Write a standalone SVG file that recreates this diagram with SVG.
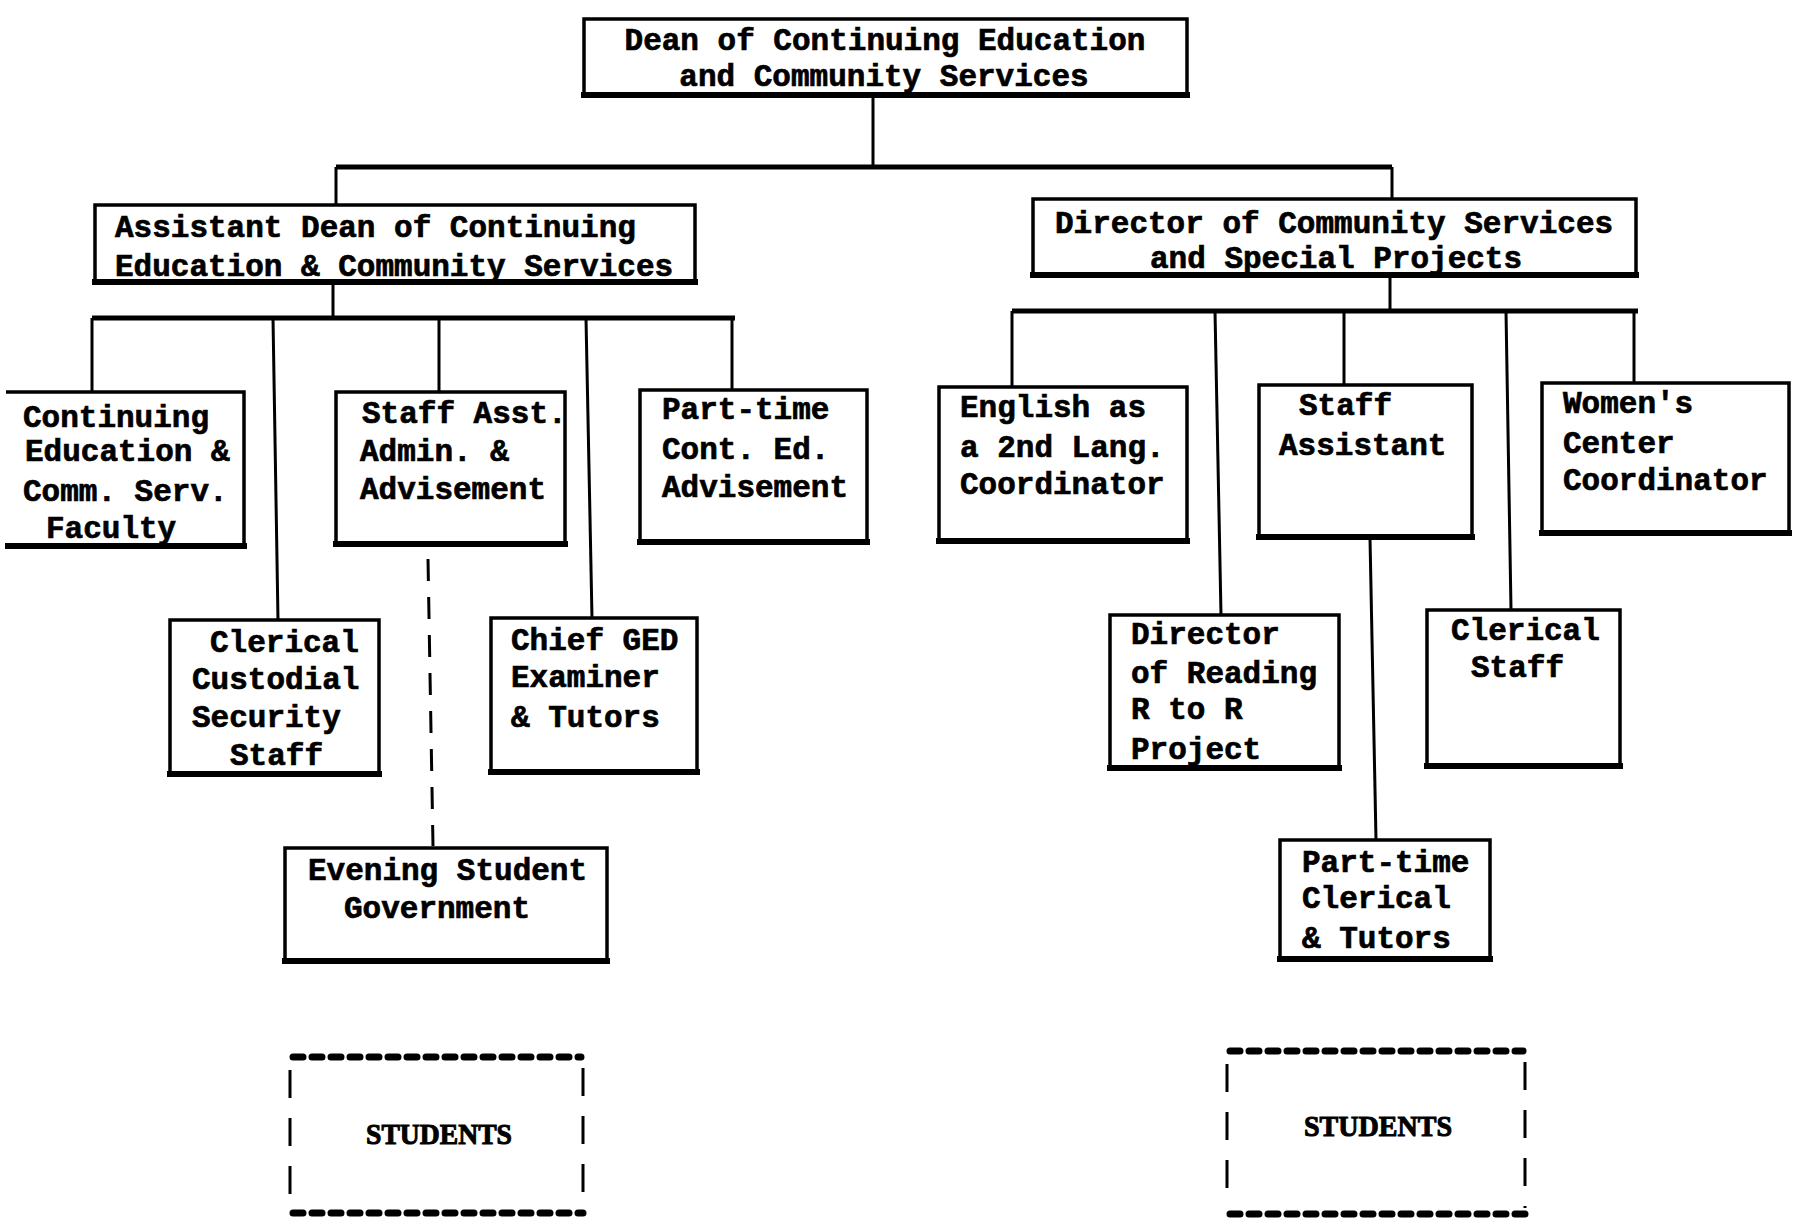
<svg xmlns="http://www.w3.org/2000/svg" width="1800" height="1223" viewBox="0 0 1800 1223">
<style>
.box{fill:none;stroke:#000;stroke-width:3.5}
.base{stroke:#000;stroke-width:6;stroke-linecap:square}
.ln{fill:none;stroke:#000;stroke-width:3}
.bus{fill:none;stroke:#000;stroke-width:5}
.dash{fill:none;stroke:#000;stroke-width:3;stroke-dasharray:22 16}
.dots{fill:none;stroke:#000;stroke-width:7;stroke-dasharray:10 9;stroke-linecap:round}
.side{fill:none;stroke:#000;stroke-width:3;stroke-dasharray:28 20}
text{font-family:"Liberation Mono","DejaVu Sans Mono",monospace;font-weight:bold;font-size:31px;fill:#000;stroke:#000;stroke-width:0.7}
.st{font-family:"Liberation Serif","DejaVu Serif",serif;font-size:29px;stroke-width:1}
</style>
<rect width="1800" height="1223" fill="#fff"/>
<g id="connectors">
<path class="ln" d="M873,96 V167"/>
<path class="bus" d="M336,167 H1392"/>
<path class="ln" d="M336,167 V205"/>
<path class="ln" d="M1392,167 V199"/>
<path class="ln" d="M333,283 V318"/>
<path class="bus" d="M92,318 H735"/>
<path class="ln" d="M92,318 V392"/>
<path class="ln" d="M273,318 L278,620"/>
<path class="ln" d="M439,318 V392"/>
<path class="ln" d="M586,318 L592,618"/>
<path class="ln" d="M732,318 V390"/>
<path class="dash" d="M428,559 L433,846"/>
<path class="ln" d="M1390,276 V311"/>
<path class="bus" d="M1012,311 H1638"/>
<path class="ln" d="M1012,311 V387"/>
<path class="ln" d="M1215,311 L1221,615"/>
<path class="ln" d="M1344,311 V385"/>
<path class="ln" d="M1506,311 L1511,610"/>
<path class="ln" d="M1634,311 V383"/>
<path class="ln" d="M1370,538 L1376,840"/>
</g>
<g id="dean">
<rect class="box" x="584" y="19" width="603" height="77"/>
<line class="base" x1="584" y1="95" x2="1187" y2="95"/>
<text x="885" y="50" text-anchor="middle">Dean of Continuing Education</text>
<text x="884" y="86" text-anchor="middle">and Community Services</text>
</g>
<g id="asst-dean">
<rect class="box" x="95" y="205" width="600" height="78"/>
<line class="base" x1="95" y1="282" x2="695" y2="282"/>
<text x="115" y="237">Assistant Dean of Continuing</text>
<text x="115" y="276">Education &amp; Community Services</text>
</g>
<g id="director">
<rect class="box" x="1033" y="199" width="603" height="77"/>
<line class="base" x1="1033" y1="275" x2="1636" y2="275"/>
<text x="1055" y="233">Director of Community Services</text>
<text x="1150" y="268">and Special Projects</text>
</g>
<g id="faculty">
<path class="box" d="M6,392 H244 V547 H6"/>
<line class="base" x1="8" y1="546" x2="244" y2="546"/>
<text x="23" y="427">Continuing</text>
<text x="25" y="461">Education &amp;</text>
<text x="23" y="501">Comm. Serv.</text>
<text x="46" y="538">Faculty</text>
</g>
<g id="staff-asst-admin">
<rect class="box" x="336" y="392" width="229" height="153"/>
<line class="base" x1="336" y1="544" x2="565" y2="544"/>
<text x="362" y="423">Staff Asst.</text>
<text x="360" y="461">Admin. &amp;</text>
<text x="360" y="499">Advisement</text>
</g>
<g id="part-time-advisement">
<rect class="box" x="640" y="390" width="227" height="153"/>
<line class="base" x1="640" y1="542" x2="867" y2="542"/>
<text x="662" y="419">Part-time</text>
<text x="662" y="459">Cont. Ed.</text>
<text x="662" y="497">Advisement</text>
</g>
<g id="clerical-custodial">
<rect class="box" x="170" y="620" width="209" height="155"/>
<line class="base" x1="170" y1="774" x2="379" y2="774"/>
<text x="210" y="652">Clerical</text>
<text x="192" y="689">Custodial</text>
<text x="192" y="727">Security</text>
<text x="230" y="765">Staff</text>
</g>
<g id="chief-ged">
<rect class="box" x="491" y="618" width="206" height="155"/>
<line class="base" x1="491" y1="772" x2="697" y2="772"/>
<text x="511" y="650">Chief GED</text>
<text x="511" y="687">Examiner</text>
<text x="511" y="727">&amp; Tutors</text>
</g>
<g id="evening-student-government">
<rect class="box" x="285" y="848" width="322" height="114"/>
<line class="base" x1="285" y1="961" x2="607" y2="961"/>
<text x="308" y="880">Evening Student</text>
<text x="344" y="918">Government</text>
</g>
<g id="students-left">
<path class="dots" d="M293,1057 H581"/>
<path class="dots" d="M293,1213 H583"/>
<path class="side" d="M290,1070 V1210"/>
<path class="side" d="M583,1068 V1210"/>
<text class="st" x="439" y="1144" text-anchor="middle" textLength="146" lengthAdjust="spacingAndGlyphs">STUDENTS</text>
</g>
<g id="esl">
<rect class="box" x="939" y="387" width="248" height="155"/>
<line class="base" x1="939" y1="541" x2="1187" y2="541"/>
<text x="960" y="417">English as</text>
<text x="960" y="457">a 2nd Lang.</text>
<text x="960" y="494">Coordinator</text>
</g>
<g id="staff-assistant">
<rect class="box" x="1259" y="385" width="213" height="153"/>
<line class="base" x1="1259" y1="537" x2="1472" y2="537"/>
<text x="1299" y="415">Staff</text>
<text x="1279" y="455">Assistant</text>
</g>
<g id="womens-center">
<rect class="box" x="1542" y="383" width="247" height="151"/>
<line class="base" x1="1542" y1="533" x2="1789" y2="533"/>
<text x="1563" y="413">Women's</text>
<text x="1563" y="453">Center</text>
<text x="1563" y="490">Coordinator</text>
</g>
<g id="director-reading">
<rect class="box" x="1110" y="615" width="229" height="154"/>
<line class="base" x1="1110" y1="768" x2="1339" y2="768"/>
<text x="1131" y="644">Director</text>
<text x="1131" y="683">of Reading</text>
<text x="1131" y="719">R to R</text>
<text x="1131" y="759">Project</text>
</g>
<g id="clerical-staff">
<rect class="box" x="1427" y="610" width="193" height="157"/>
<line class="base" x1="1427" y1="766" x2="1620" y2="766"/>
<text x="1451" y="640">Clerical</text>
<text x="1471" y="677">Staff</text>
</g>
<g id="part-time-clerical">
<rect class="box" x="1280" y="840" width="210" height="120"/>
<line class="base" x1="1280" y1="959" x2="1490" y2="959"/>
<text x="1302" y="872">Part-time</text>
<text x="1302" y="908">Clerical</text>
<text x="1302" y="948">&amp; Tutors</text>
</g>
<g id="students-right">
<path class="dots" d="M1230,1051 H1523"/>
<path class="dots" d="M1230,1214 H1525"/>
<path class="side" d="M1227,1064 V1208"/>
<path class="side" d="M1525,1062 V1208"/>
<text class="st" x="1378" y="1136" text-anchor="middle" textLength="148" lengthAdjust="spacingAndGlyphs">STUDENTS</text>
</g>
</svg>
